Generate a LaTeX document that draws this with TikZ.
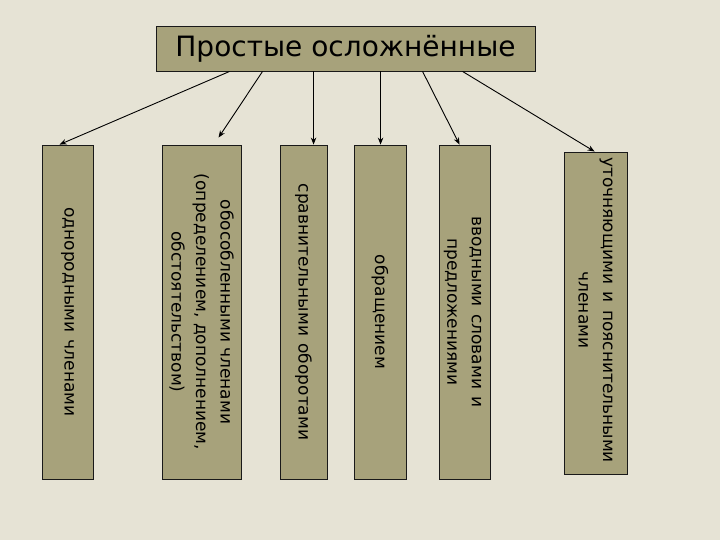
\documentclass[tikz,border=0pt]{standalone}
\usepackage{fontspec}
\setmainfont{DejaVu Sans}
\usetikzlibrary{arrows.meta,calc}
\definecolor{bgc}{RGB}{230,227,213}
\definecolor{khaki}{RGB}{167,162,123}
\newcommand{\wsp}{\ \hspace{2pt}}
\tikzset{
  catbox/.style={draw=black!90,line width=0.9pt,fill=khaki,inner sep=0pt},
  cattext/.style={rotate=-90,align=center,inner sep=0pt,font=\fontsize{17}{24.5}\selectfont},
  arr/.style={draw=black,line width=0.9pt,-{Stealth[length=7pt,width=5.5pt]}}
}
\begin{document}
\begin{tikzpicture}[x=1pt,y=-1pt]
\fill[bgc] (0,0) rectangle (720,540);
\useasboundingbox (0,0) rectangle (720,540);
\node[catbox,minimum width=379pt,minimum height=45pt,font=\fontsize{28}{30}\selectfont] (title) at (345.5,48.5) {Простые осложнённые};
\node[catbox,minimum width=51pt,minimum height=334pt] (b1) at (67.5,312) {};
\node[catbox,minimum width=79pt,minimum height=334pt] (b2) at (201.5,312) {};
\node[catbox,minimum width=47pt,minimum height=334pt] (b3) at (303.5,312) {};
\node[catbox,minimum width=52pt,minimum height=334pt] (b4) at (380,312) {};
\node[catbox,minimum width=51pt,minimum height=334pt] (b5) at (464.5,312) {};
\node[catbox,minimum width=63pt,minimum height=322pt] (b6) at (595.5,313) {};
\node[cattext] (t1) at (b1.center) {однородными\wsp членами};
\node[cattext] (t2) at (b2.center) {обособленными членами\\(определением, дополнением,\\обстоятельством)};
\node[cattext] (t3) at (b3.center) {сравнительными\wsp оборотами};
\node[cattext] (t4) at (b4.center) {обращением};
\node[cattext] (t5) at ([xshift=-2pt]b5.center) {вводными\wsp словами\wsp и\\предложениями};
\node[cattext] (t6) at ([yshift=3pt]b6.center) {уточняющими\wsp и\wsp пояснительными\\членами};
\draw[arr] ([xshift=74pt]title.south west) -- ([xshift=18pt]b1.north west);
\draw[arr] ([xshift=107pt]title.south west) -- ([xshift=57pt,yshift=7pt]b2.north west);
\draw[arr] ([xshift=158pt]title.south west) -- ([xshift=34pt]b3.north west);
\draw[arr] ([xshift=225pt]title.south west) -- ([xshift=27pt]b4.north west);
\draw[arr] ([xshift=267pt]title.south west) -- ([xshift=21pt]b5.north west);
\draw[arr] ([xshift=307pt]title.south west) -- ([xshift=31pt]b6.north west);
\end{tikzpicture}
\end{document}
